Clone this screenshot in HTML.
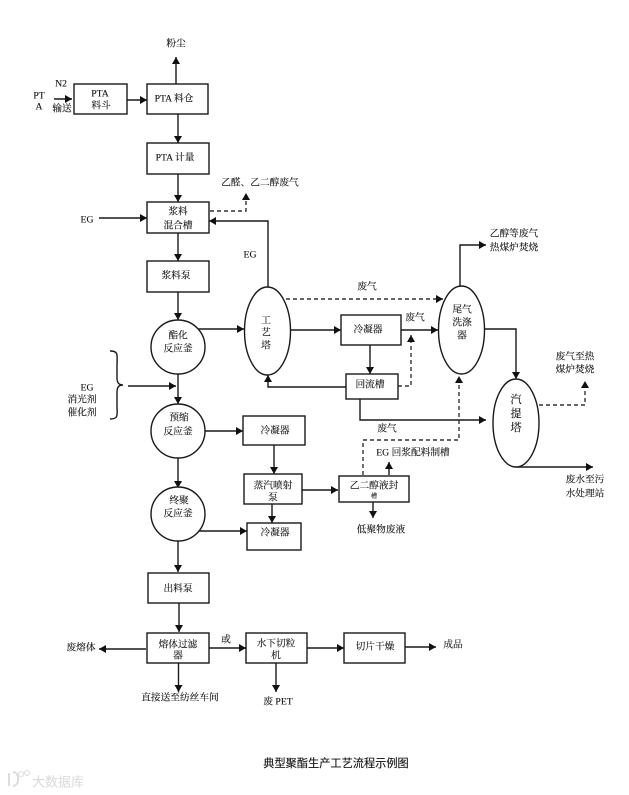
<!DOCTYPE html>
<html><head><meta charset="utf-8">
<style>
html,body{margin:0;padding:0;background:#fff;width:629px;height:795px;overflow:hidden}
svg{display:block;filter:blur(.35px)}
text{font-family:"Liberation Serif","Noto Serif CJK SC",serif;font-size:9.7px;fill:#111;stroke:#111;stroke-width:.12;text-anchor:middle;dominant-baseline:central}
.s{fill:none;stroke:#1a1a1a;stroke-width:1.4}
.b{fill:#fff;stroke:#1a1a1a;stroke-width:1.4}
.d{fill:none;stroke:#333;stroke-width:1.4;stroke-dasharray:4 3}
</style></head><body>
<svg width="629" height="795" viewBox="0 0 629 795" xmlns="http://www.w3.org/2000/svg">
<defs><marker id="a" markerUnits="userSpaceOnUse" markerWidth="8" markerHeight="8" refX="7" refY="4" orient="auto"><path d="M0,0L7,4L0,8z" fill="#111"/></marker></defs>
<g>
<path class="s" marker-end="url(#a)" d="M176,84V57"/>
<path class="s" marker-end="url(#a)" d="M54,99H72"/>
<path class="s" marker-end="url(#a)" d="M127,100H147"/>
<path class="s" marker-end="url(#a)" d="M178,114V143"/>
<path class="s" marker-end="url(#a)" d="M178,174V202"/>
<path class="s" marker-end="url(#a)" d="M99,218H147"/>
<path class="s" marker-end="url(#a)" d="M268,287V221H209"/>
<path class="s" marker-end="url(#a)" d="M178,233V261"/>
<path class="s" marker-end="url(#a)" d="M178,292V320"/>
<path class="s" marker-end="url(#a)" d="M198,329H244"/>
<path class="s" marker-end="url(#a)" d="M291,330H341"/>
<path class="s" marker-end="url(#a)" d="M401,330H438"/>
<path class="s" marker-end="url(#a)" d="M460,286V245H486"/>
<path class="s" marker-end="url(#a)" d="M370,345V374"/>
<path class="s" marker-end="url(#a)" d="M346,387H268V375"/>
<path class="s" marker-end="url(#a)" d="M360,399V420H486"/>
<path class="s" marker-end="url(#a)" d="M485,329H516V379"/>
<path class="s" marker-end="url(#a)" d="M516,467H593"/>
<path class="s" marker-end="url(#a)" d="M128,386H176"/>
<path class="s" marker-end="url(#a)" d="M178,374V404"/>
<path class="s" marker-end="url(#a)" d="M205,431H243"/>
<path class="s" marker-end="url(#a)" d="M274,445V474"/>
<path class="s" marker-end="url(#a)" d="M302,490H338"/>
<path class="s" marker-end="url(#a)" d="M272,504V523"/>
<path class="s" marker-end="url(#a)" d="M178,458V488"/>
<path class="s" marker-end="url(#a)" d="M198,531H247"/>
<path class="s" marker-end="url(#a)" d="M178,541V572"/>
<path class="s" marker-end="url(#a)" d="M179,603V632"/>
<path class="s" marker-end="url(#a)" d="M146,649H99"/>
<path class="s" marker-end="url(#a)" d="M209,648H246"/>
<path class="s" marker-end="url(#a)" d="M307,648H344"/>
<path class="s" marker-end="url(#a)" d="M405,647H436"/>
<path class="s" marker-end="url(#a)" d="M178.500,663V692"/>
<path class="s" marker-end="url(#a)" d="M276,663V692"/>
<path class="s" marker-end="url(#a)" d="M389,475V462"/>
<path class="s" marker-end="url(#a)" d="M373,502V518"/>
</g>
<path class="d" marker-end="url(#a)" d="M210,211H246V193"/>
<path class="d" marker-end="url(#a)" d="M286,299H443"/>
<path class="d" marker-end="url(#a)" d="M398,386H411V335"/>
<path class="d" marker-end="url(#a)" d="M539,405H585V381"/>
<path class="d" marker-end="url(#a)" d="M363,475V440H459V376"/>
<path class="s" d="M110,351C119,351 117,355 117,366V378C117,383 119,385 123,385C119,385 117,387 117,392V405C117,415 119,419 110,419"/>
<rect class="b" x="74" y="84" width="53" height="30"/>
<rect class="b" x="147" y="84" width="61" height="30"/>
<rect class="b" x="147" y="143" width="62" height="31"/>
<rect class="b" x="147" y="202" width="62" height="31"/>
<rect class="b" x="147" y="261" width="62" height="31"/>
<rect class="b" x="341" y="315" width="60" height="30"/>
<rect class="b" x="346" y="374" width="52" height="25"/>
<rect class="b" x="243" y="416" width="62" height="29"/>
<rect class="b" x="244" y="474" width="58" height="30"/>
<rect class="b" x="247" y="523" width="54" height="27"/>
<rect class="b" x="339" y="476" width="70" height="26"/>
<rect class="b" x="148" y="573" width="61" height="30"/>
<rect class="b" x="147" y="633" width="62" height="30"/>
<rect class="b" x="246" y="633" width="61" height="30"/>
<rect class="b" x="344" y="633" width="61" height="30"/>
<circle class="b" cx="178" cy="347" r="27"/>
<circle class="b" cx="178" cy="431" r="27"/>
<circle class="b" cx="178" cy="514" r="27"/>
<ellipse class="b" cx="267.500" cy="331" rx="23" ry="44"/>
<ellipse class="b" cx="461.500" cy="330" rx="23" ry="44"/>
<ellipse class="b" cx="516" cy="423" rx="23" ry="44"/>
<text x="176" y="44">粉尘</text>
<text x="39" y="96">PT</text><text x="39" y="107">A</text>
<text x="61" y="84">N2</text><text x="62" y="109">输送</text>
<text x="100" y="94">PTA</text><text x="101" y="106">料斗</text>
<text x="174" y="99">PTA 料仓</text>
<text x="175" y="158">PTA 计量</text>
<text x="260" y="183">乙醛、乙二醇废气</text>
<text x="87" y="220">EG</text>
<text x="178" y="212">浆料</text><text x="178" y="226">混合槽</text>
<text x="250" y="255">EG</text>
<text x="176" y="276">浆料泵</text>
<text x="178" y="336">酯化</text><text x="178" y="349">反应釜</text>
<text x="266" y="321">工</text><text x="266" y="333">艺</text><text x="266" y="346">塔</text>
<text x="367" y="287">废气</text>
<text x="415" y="318">废气</text>
<text x="368" y="330">冷凝器</text>
<text x="370" y="385">回流槽</text>
<text x="462" y="310">尾气</text><text x="462" y="323">洗涤</text><text x="462" y="336">器</text>
<text x="514" y="234">乙醇等废气</text><text x="514" y="248">热煤炉焚烧</text>
<text x="575" y="357">废气至热</text><text x="575" y="370">煤炉焚烧</text>
<text x="516" y="400" style="font-size:11px">汽</text><text x="516" y="414" style="font-size:11px">提</text><text x="516" y="428" style="font-size:11px">塔</text>
<text x="585" y="480">废水至污</text><text x="585" y="494">水处理站</text>
<text x="387" y="429">废气</text>
<text x="413" y="453">EG 回浆配料制槽</text>
<text x="374" y="486">乙二醇液封</text>
<text x="374" y="497" style="font-size:6px">槽</text>
<text x="381" y="530">低聚物废液</text>
<text x="87" y="388">EG</text><text x="82" y="400">消光剂</text><text x="82" y="413">催化剂</text>
<text x="179" y="418">预缩</text><text x="178" y="432">反应釜</text>
<text x="275" y="431">冷凝器</text>
<text x="273" y="486">蒸汽喷射</text><text x="273" y="498">泵</text>
<text x="179" y="501">终聚</text><text x="178" y="514">反应釜</text>
<text x="275" y="533">冷凝器</text>
<text x="178" y="589">出料泵</text>
<text x="178" y="645">熔体过滤</text><text x="178" y="656">器</text>
<text x="81" y="648">废熔体</text>
<text x="226" y="640">或</text>
<text x="276" y="644">水下切粒</text><text x="276" y="656">机</text>
<text x="375" y="647">切片干燥</text>
<text x="453" y="645">成品</text>
<text x="180" y="698">直接送至纺丝车间</text>
<text x="278" y="702">废 PET</text>
<text x="336" y="764" style="font-size:11.200px;font-family:'Liberation Sans','Noto Sans CJK SC',sans-serif">典型聚酯生产工艺流程示例图</text>
<g>
<path d="M9,773V786M13,772C20,772 20,786 13,786" fill="none" stroke="#ddd" stroke-width="2"/>
<circle cx="21" cy="774" r="2.500" fill="none" stroke="#ddd"/><circle cx="27" cy="773" r="2.500" fill="none" stroke="#ddd"/>
<text x="58" y="782" style="font-size:13px;fill:#dcdcdc;stroke:#dcdcdc;font-family:'Liberation Sans','Noto Sans CJK SC',sans-serif">大数据库</text>
</g>
</svg>
</body></html>
